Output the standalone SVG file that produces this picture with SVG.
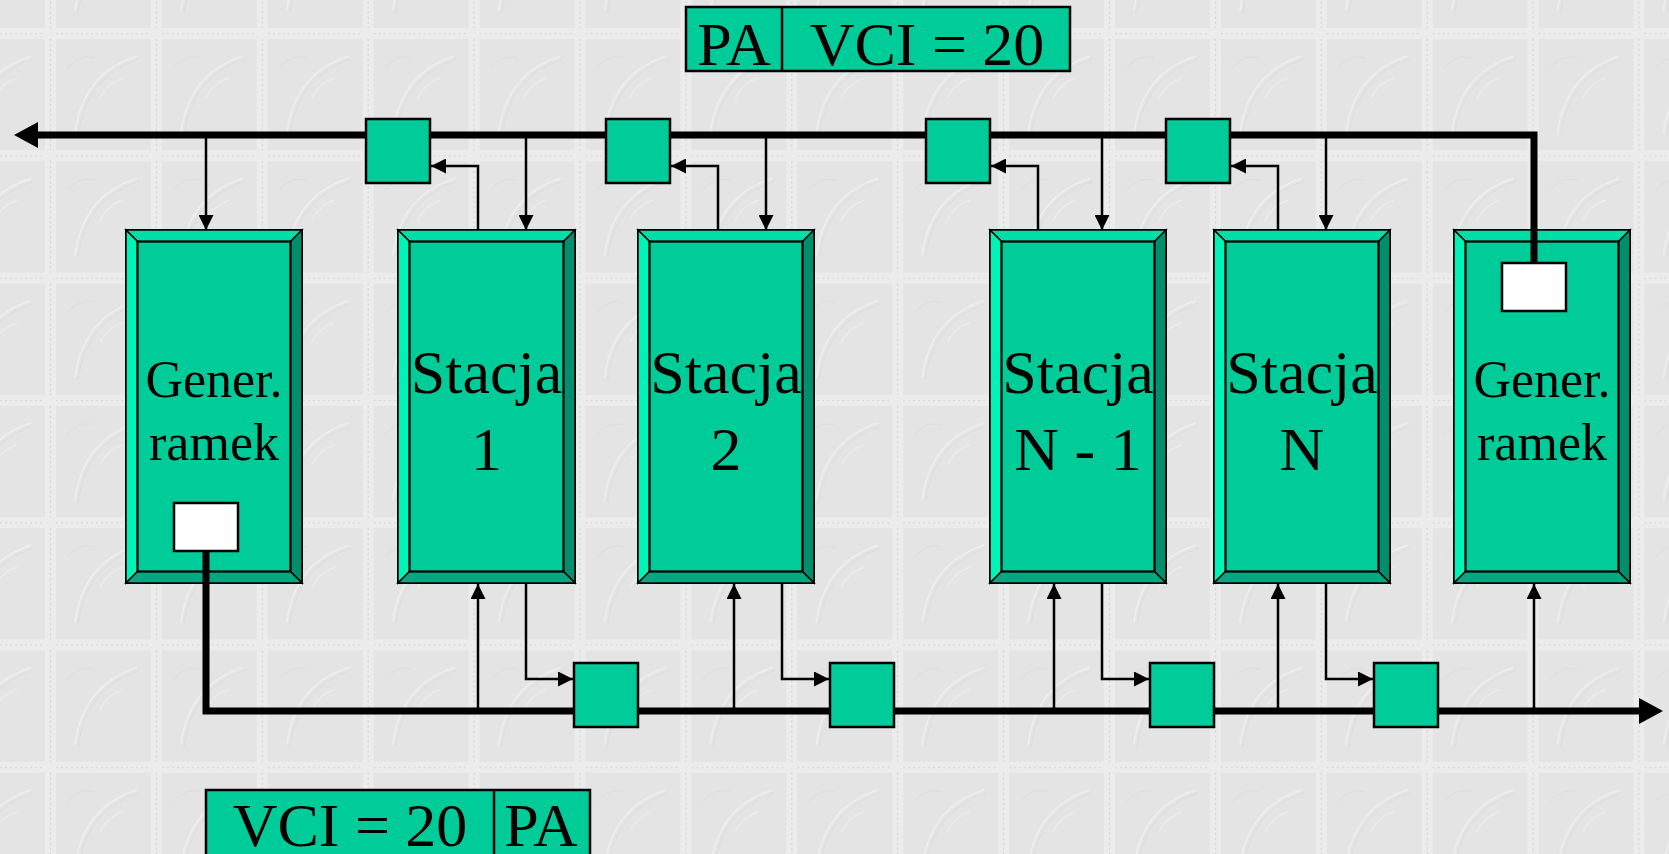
<svg xmlns="http://www.w3.org/2000/svg" width="1669" height="854" viewBox="0 0 1669 854">
<defs>
<pattern id="bg" patternUnits="userSpaceOnUse" x="45" y="28" width="105.9" height="122.3">
<rect width="105.9" height="122.3" fill="#E4E4E4"/>
<rect x="0" y="0" width="11" height="122.3" fill="#ECECEC"/>
<rect x="0" y="0" width="105.9" height="11" fill="#ECECEC"/>
<line x1="5.5" y1="11" x2="5.5" y2="122.3" stroke="#D3D3D3" stroke-width="1.2" stroke-dasharray="2 3"/>
<line x1="11" y1="5.5" x2="105.9" y2="5.5" stroke="#D8D8D8" stroke-width="1.2" stroke-dasharray="2 3"/>
<path d="M30 105 Q 38 45 92 28" fill="none" stroke="#F0F0F0" stroke-width="1.5"/>
<path d="M33 107 Q 41 48 94 31" fill="none" stroke="#D8D8D8" stroke-width="0.8"/>
<path d="M55 70 Q 62 55 78 50" fill="none" stroke="#EFEFEF" stroke-width="1.2"/>
<path d="M22 40 Q 35 25 50 30" fill="none" stroke="#D9D9D9" stroke-width="0.8"/>
</pattern>
<marker id="ah" viewBox="0 0 15 15" refX="15" refY="7.5" markerWidth="15" markerHeight="15" markerUnits="userSpaceOnUse" orient="auto">
<path d="M0 0 L15 7.5 L0 15 Z" fill="#000"/>
</marker>
</defs>
<style>
.face{fill:#00CC99;stroke:#000;stroke-width:2}
.bt{fill:#00DDA6;stroke:#000;stroke-width:1.5;stroke-linejoin:miter}
.bl{fill:#00F2B6;stroke:#000;stroke-width:1.5}
.br{fill:#008F6C;stroke:#000;stroke-width:1.5}
.bb{fill:#00A882;stroke:#000;stroke-width:1.5}
.sq{fill:#00CC99;stroke:#000;stroke-width:2.5}
.wb{fill:#FFFFFF;stroke:#000;stroke-width:2.5}
.bus{fill:none;stroke:#000;stroke-width:7;stroke-linejoin:miter}
.thin{fill:none;stroke:#000;stroke-width:2.5}
.tg{font-family:"Liberation Serif","Times New Roman",serif;font-size:52px;fill:#000;text-anchor:middle}
.ts{font-family:"Liberation Serif","Times New Roman",serif;font-size:62px;fill:#000;text-anchor:middle}
.lbl{fill:#00CC99;stroke:#000;stroke-width:2.5}
</style>
<rect x="0" y="0" width="1669" height="854" fill="url(#bg)"/>

<g id="connectors">
<polyline class="bus" points="1534,263 1534,135 36,135"/>
<polygon points="14,135 38,122 38,148" fill="#000"/>
<polyline class="bus" points="206,551 206,711 1639,711"/>
<polygon points="1663,711 1639,698 1639,724" fill="#000"/>
<line class="thin" x1="206" y1="138" x2="206" y2="230" marker-end="url(#ah)"/>
<line class="thin" x1="526" y1="138" x2="526" y2="230" marker-end="url(#ah)"/>
<line class="thin" x1="766" y1="138" x2="766" y2="230" marker-end="url(#ah)"/>
<line class="thin" x1="1102" y1="138" x2="1102" y2="230" marker-end="url(#ah)"/>
<line class="thin" x1="1326" y1="138" x2="1326" y2="230" marker-end="url(#ah)"/>
<polyline class="thin" points="478,230 478,166 431,166" marker-end="url(#ah)"/>
<polyline class="thin" points="718,230 718,166 671,166" marker-end="url(#ah)"/>
<polyline class="thin" points="1038,230 1038,166 991,166" marker-end="url(#ah)"/>
<polyline class="thin" points="1278,230 1278,166 1231,166" marker-end="url(#ah)"/>
<line class="thin" x1="478" y1="708" x2="478" y2="584" marker-end="url(#ah)"/>
<line class="thin" x1="734" y1="708" x2="734" y2="584" marker-end="url(#ah)"/>
<line class="thin" x1="1054" y1="708" x2="1054" y2="584" marker-end="url(#ah)"/>
<line class="thin" x1="1278" y1="708" x2="1278" y2="584" marker-end="url(#ah)"/>
<line class="thin" x1="1534" y1="708" x2="1534" y2="584" marker-end="url(#ah)"/>
<polyline class="thin" points="526,583 526,679 573,679" marker-end="url(#ah)"/>
<polyline class="thin" points="782,583 782,679 829,679" marker-end="url(#ah)"/>
<polyline class="thin" points="1102,583 1102,679 1149,679" marker-end="url(#ah)"/>
<polyline class="thin" points="1326,583 1326,679 1373,679" marker-end="url(#ah)"/>
</g>

<g id="gen1">
<rect class="face" x="126" y="230" width="176" height="353"/>
<polygon class="bt" points="126,230 302,230 290.5,241.5 137.5,241.5"/>
<polygon class="bl" points="126,230 137.5,241.5 137.5,571.5 126,583"/>
<polygon class="br" points="302,230 302,583 290.5,571.5 290.5,241.5"/>
<polygon class="bb" points="126,583 302,583 290.5,571.5 137.5,571.5"/>
<rect x="137.5" y="241.5" width="153" height="330" fill="none" stroke="#000" stroke-width="2"/>
<text class="tg" x="214" y="397">Gener.</text>
<text class="tg" x="214" y="460">ramek</text>
<rect class="wb" x="174" y="503" width="64" height="48"/>
</g>

<g id="stacja1">
<rect class="face" x="398" y="230" width="177" height="353"/>
<polygon class="bt" points="398,230 575,230 563.5,241.5 409.5,241.5"/>
<polygon class="bl" points="398,230 409.5,241.5 409.5,571.5 398,583"/>
<polygon class="br" points="575,230 575,583 563.5,571.5 563.5,241.5"/>
<polygon class="bb" points="398,583 575,583 563.5,571.5 409.5,571.5"/>
<rect x="409.5" y="241.5" width="154" height="330" fill="none" stroke="#000" stroke-width="2"/>
<text class="ts" x="486.5" y="393">Stacja</text>
<text class="ts" x="486.5" y="470">1</text>
</g>

<g id="stacja2">
<rect class="face" x="638" y="230" width="176" height="353"/>
<polygon class="bt" points="638,230 814,230 802.5,241.5 649.5,241.5"/>
<polygon class="bl" points="638,230 649.5,241.5 649.5,571.5 638,583"/>
<polygon class="br" points="814,230 814,583 802.5,571.5 802.5,241.5"/>
<polygon class="bb" points="638,583 814,583 802.5,571.5 649.5,571.5"/>
<rect x="649.5" y="241.5" width="153" height="330" fill="none" stroke="#000" stroke-width="2"/>
<text class="ts" x="726" y="393">Stacja</text>
<text class="ts" x="726" y="470">2</text>
</g>

<g id="stacjaN1">
<rect class="face" x="990" y="230" width="176" height="353"/>
<polygon class="bt" points="990,230 1166,230 1154.5,241.5 1001.5,241.5"/>
<polygon class="bl" points="990,230 1001.5,241.5 1001.5,571.5 990,583"/>
<polygon class="br" points="1166,230 1166,583 1154.5,571.5 1154.5,241.5"/>
<polygon class="bb" points="990,583 1166,583 1154.5,571.5 1001.5,571.5"/>
<rect x="1001.5" y="241.5" width="153" height="330" fill="none" stroke="#000" stroke-width="2"/>
<text class="ts" x="1078" y="393">Stacja</text>
<text class="ts" x="1078" y="470">N - 1</text>
</g>

<g id="stacjaN">
<rect class="face" x="1214" y="230" width="176" height="353"/>
<polygon class="bt" points="1214,230 1390,230 1378.5,241.5 1225.5,241.5"/>
<polygon class="bl" points="1214,230 1225.5,241.5 1225.5,571.5 1214,583"/>
<polygon class="br" points="1390,230 1390,583 1378.5,571.5 1378.5,241.5"/>
<polygon class="bb" points="1214,583 1390,583 1378.5,571.5 1225.5,571.5"/>
<rect x="1225.5" y="241.5" width="153" height="330" fill="none" stroke="#000" stroke-width="2"/>
<text class="ts" x="1302" y="393">Stacja</text>
<text class="ts" x="1302" y="470">N</text>
</g>

<g id="gen2">
<rect class="face" x="1454" y="230" width="176" height="353"/>
<polygon class="bt" points="1454,230 1630,230 1618.5,241.5 1465.5,241.5"/>
<polygon class="bl" points="1454,230 1465.5,241.5 1465.5,571.5 1454,583"/>
<polygon class="br" points="1630,230 1630,583 1618.5,571.5 1618.5,241.5"/>
<polygon class="bb" points="1454,583 1630,583 1618.5,571.5 1465.5,571.5"/>
<rect x="1465.5" y="241.5" width="153" height="330" fill="none" stroke="#000" stroke-width="2"/>
<text class="tg" x="1542" y="397">Gener.</text>
<text class="tg" x="1542" y="460">ramek</text>
<line x1="1534" y1="230" x2="1534" y2="263" stroke="#000" stroke-width="7"/>
<rect class="wb" x="1502" y="263" width="64" height="48"/>
</g>

<g id="gen1-out">
<line x1="206" y1="551" x2="206" y2="583" stroke="#000" stroke-width="7"/>
</g>

<g id="top-switches">
<rect class="sq" x="366" y="119" width="64" height="64"/>
<rect class="sq" x="606" y="119" width="64" height="64"/>
<rect class="sq" x="926" y="119" width="64" height="64"/>
<rect class="sq" x="1166" y="119" width="64" height="64"/>
</g>

<g id="bottom-switches">
<rect class="sq" x="574" y="663" width="64" height="64"/>
<rect class="sq" x="830" y="663" width="64" height="64"/>
<rect class="sq" x="1150" y="663" width="64" height="64"/>
<rect class="sq" x="1374" y="663" width="64" height="64"/>
</g>

<g id="label-top">
<rect class="lbl" x="686" y="7" width="384" height="64"/>
<line x1="782" y1="7" x2="782" y2="71" stroke="#000" stroke-width="2.5"/>
<text class="ts" x="734" y="65">PA</text>
<text class="ts" x="927" y="65">VCI = 20</text>
</g>

<g id="label-bottom">
<rect class="lbl" x="206" y="790" width="384" height="80"/>
<line x1="494" y1="790" x2="494" y2="870" stroke="#000" stroke-width="2.5"/>
<text class="ts" x="350" y="846">VCI = 20</text>
<text class="ts" x="541" y="846">PA</text>
</g>
</svg>
